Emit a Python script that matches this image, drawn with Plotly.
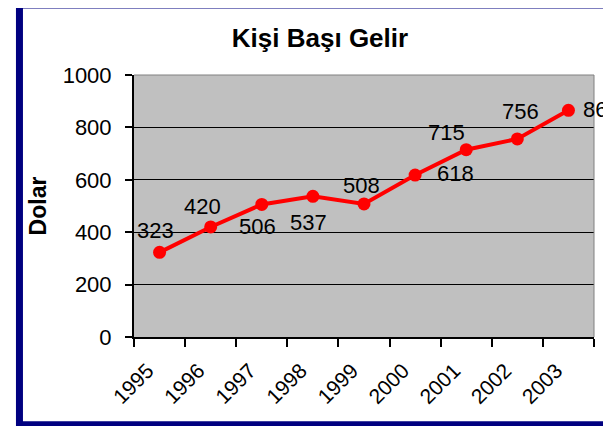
import plotly.graph_objects as go

# Veriler
yillar = ['1995', '1996', '1997', '1998', '1999', '2000', '2001', '2002', '2003']
gelir = [323, 420, 506, 537, 508, 618, 715, 756, 865]

# etiketlerin noktaya göre kaydırılması (piksel)
etiket_dx = [-4, -8, -4, -4, -3, 40, -20, 3, 33]
etiket_dy = [22, 20, -22, -26, 18, 2, 17, 27, 1]

font_ailesi = 'Arial, Liberation Sans, sans-serif'

fig = go.Figure()
fig.add_trace(go.Scatter(
    x=yillar, y=gelir, mode='lines+markers',
    line=dict(color='#ff0000', width=4),
    marker=dict(color='#ff0000', size=13),
    hoverinfo='x+y', showlegend=False
))

# kategori ekseninde annotation x'i sıra numarası olmalı
for i, (deger, dx, dy) in enumerate(zip(gelir, etiket_dx, etiket_dy)):
    fig.add_annotation(x=i, y=deger, text=str(deger), showarrow=False,
                       xshift=dx, yshift=dy,
                       font=dict(family=font_ailesi, size=22, color='black'))

# plot alanı çerçevesi (üst ve sağ) + mavi dış çerçeve
fig.add_shape(type='line', xref='paper', yref='paper', x0=0, x1=1, y0=1, y1=1,
              line=dict(color='#808080', width=1))
fig.add_shape(type='line', xref='paper', yref='paper', x0=1, x1=1, y0=0, y1=1,
              line=dict(color='#808080', width=1))
fig.add_shape(type='rect', xref='paper', yref='paper',
              x0=-0.249, x1=1.1, y0=-0.335, y1=1.267,
              line=dict(color='#000080', width=7))

# sayfa gövdesinin 8px kenar boşluğu yüzünden boyut 603x418
fig.update_layout(
    width=603, height=418,
    margin=dict(l=126, r=17, t=67, b=89),
    paper_bgcolor='white', plot_bgcolor='#c0c0c0',
    font=dict(family=font_ailesi, color='black'),
    title=dict(text='<b>Kişi Başı Gelir</b>', x=312 / 603, y=1 - 30 / 418,
               xanchor='center', yanchor='middle',
               font=dict(size=26, color='black')),
)
fig.update_xaxes(
    type='category', range=[-0.5, 8.5], tickson='boundaries',
    ticks='outside', ticklen=8, tickwidth=1.5, tickcolor='black',
    showline=True, linecolor='black', linewidth=2, showgrid=False,
    tickangle=-45, tickfont=dict(size=21),
    ticklabelstandoff=11, ticklabelshift=-12
)
fig.update_yaxes(
    range=[0, 1000], dtick=200,
    ticks='outside', ticklen=7, tickwidth=1.5, tickcolor='black',
    showline=True, linecolor='black', linewidth=2,
    showgrid=True, gridcolor='black', gridwidth=1, zeroline=False,
    tickfont=dict(size=22), ticklabelstandoff=9,
    title=dict(text='<b>Dolar</b>', font=dict(size=23), standoff=10)
)

fig.write_html('out.html')
